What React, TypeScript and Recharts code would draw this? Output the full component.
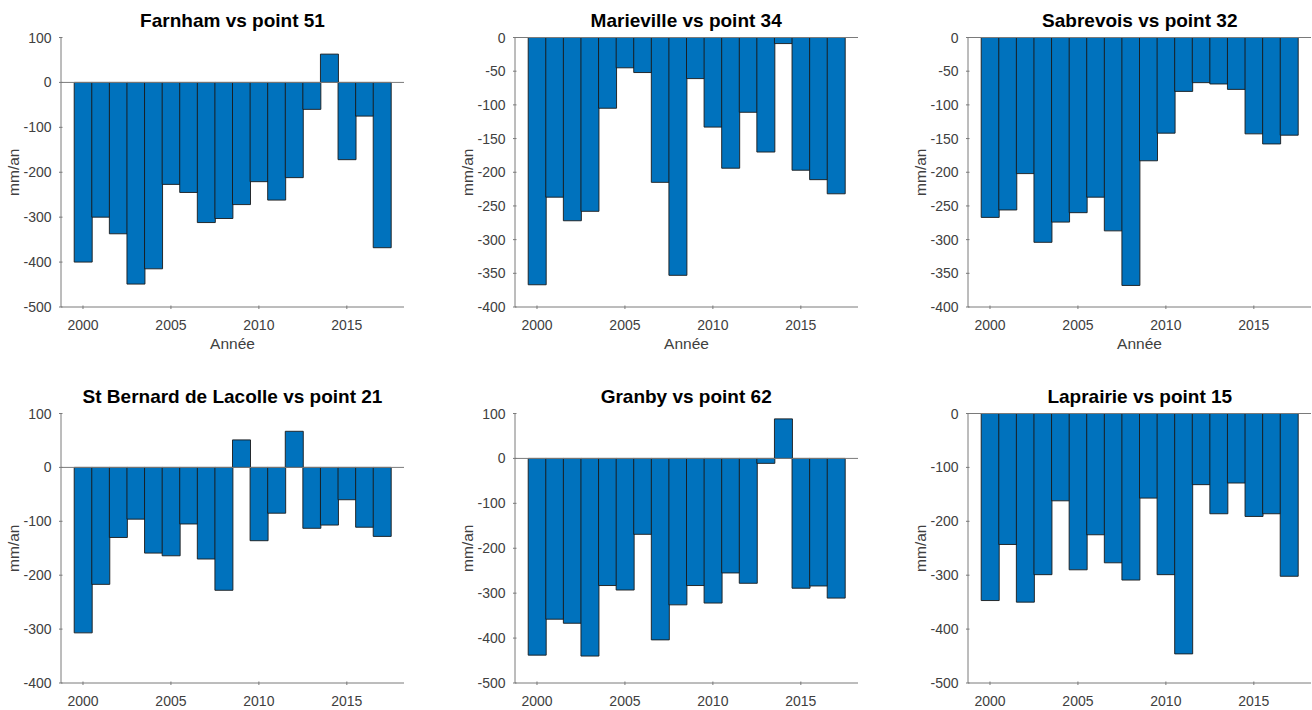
import React from 'react';
import { BarChart, Bar, XAxis, YAxis, ReferenceLine } from 'recharts';

const years = [2000, 2001, 2002, 2003, 2004, 2005, 2006, 2007, 2008, 2009, 2010, 2011, 2012, 2013, 2014, 2015, 2016, 2017];

const farnham = [-400, -300, -337, -449, -415, -227, -245, -312, -303, -272, -221, -262, -212, -60, 63, -172, -75, -368];
const marieville = [-367, -237, -272, -258, -105, -45, -52, -215, -353, -61, -133, -194, -111, -170, -9, -197, -211, -232];
const sabrevois = [-267, -256, -202, -304, -274, -260, -237, -287, -368, -183, -142, -80, -67, -69, -77, -143, -158, -145];
const stBernard = [-307, -217, -130, -96, -159, -164, -105, -170, -228, 51, -136, -85, 67, -113, -107, -60, -111, -128];
const granby = [-438, -358, -367, -440, -283, -293, -169, -404, -326, -283, -322, -255, -278, -11, 88, -289, -284, -311];
const laprairie = [-347, -243, -350, -299, -162, -290, -225, -277, -309, -157, -299, -446, -132, -186, -129, -191, -186, -302];

const ticks100to500 = [100, 0, -100, -200, -300, -400, -500];
const ticks0to400by50 = [0, -50, -100, -150, -200, -250, -300, -350, -400];
const ticks100to400 = [100, 0, -100, -200, -300, -400];
const ticks0to500 = [0, -100, -200, -300, -400, -500];

const AXIS = '#7a7a7a';
const TEXT = '#404040';
const FONT = '"Liberation Sans", Arial, Helvetica, sans-serif';

const PLOT_W = 343;
const PLOT_H = 269.5;
const PLOT_TOP = 37.5;
const Y_AXIS_W = 61;
const BAND = PLOT_W / 19.5;
const PAD = BAND * 0.75;

const XTick = (props: any) => {
  const { x, y, payload } = props;
  return (
    <g>
      <line x1={x} x2={x} y1={y} y2={y - 3.5} stroke={AXIS} strokeWidth={1} />
      <text x={x} y={y + 16} textAnchor="middle" dominantBaseline="central" fill={TEXT} fontSize={14} fontFamily={FONT}>
        {payload.value}
      </text>
    </g>
  );
};

const YTick = (props: any) => {
  const { x, y, payload } = props;
  return (
    <g>
      <line x1={x} x2={x + 3.5} y1={y} y2={y} stroke={AXIS} strokeWidth={1} />
      <text x={x - 7.5} y={y} textAnchor="end" dominantBaseline="central" fill={TEXT} fontSize={14} fontFamily={FONT}>
        {payload.value}
      </text>
    </g>
  );
};

const YLab = (props: any) => {
  const vb = props.viewBox || { x: 0, y: PLOT_TOP, width: Y_AXIS_W, height: PLOT_H };
  const cx = vb.x + 13;
  const cy = vb.y + vb.height / 2;
  return (
    <text x={cx} y={cy} transform={`rotate(-90 ${cx} ${cy})`} textAnchor="middle" dominantBaseline="central" fill={TEXT} fontSize={15.5} fontFamily={FONT}>
      mm/an
    </text>
  );
};

const XLab = (props: any) => {
  const vb = props.viewBox || { x: Y_AXIS_W, y: PLOT_TOP + PLOT_H, width: PLOT_W, height: 48 };
  return (
    <text x={vb.x + vb.width / 2} y={vb.y + 36} textAnchor="middle" dominantBaseline="central" fill={TEXT} fontSize={15.5} fontFamily={FONT}>
      Année
    </text>
  );
};

type PanelProps = {
  title: string;
  values: number[];
  yTicks: number[];
  left: number;
  top: number;
  xLabel: boolean;
};

const Panel = ({ title, values, yTicks, left, top, xLabel }: PanelProps) => {
  const data = years.map((year, i) => ({ year, v: values[i] }));
  const xh = xLabel ? 48 : 26;
  const domain = [Math.min(...yTicks), Math.max(...yTicks)];
  return (
    <div style={{ position: 'absolute', left, top, width: Y_AXIS_W + PLOT_W + 1, height: PLOT_TOP + PLOT_H + xh }}>
      <div
        style={{
          position: 'absolute',
          left: Y_AXIS_W - 20,
          top: PLOT_TOP - 26.5,
          width: PLOT_W + 40,
          textAlign: 'center',
          fontSize: 19,
          lineHeight: '20px',
          fontWeight: 'bold',
          color: '#000',
          whiteSpace: 'nowrap',
        }}
      >
        {title}
      </div>
      <BarChart
        width={Y_AXIS_W + PLOT_W + 1}
        height={PLOT_TOP + PLOT_H + xh}
        data={data}
        margin={{ top: PLOT_TOP, right: 1, bottom: 0, left: 0 }}
        barCategoryGap={0}
        barGap={0}
      >
        <XAxis
          dataKey="year"
          type="category"
          height={xh}
          padding={{ left: PAD, right: PAD }}
          interval={4}
          tickSize={0}
          tickLine={false}
          tick={<XTick />}
          axisLine={{ stroke: AXIS }}
          label={xLabel ? <XLab /> : undefined}
        />
        <YAxis
          type="number"
          width={Y_AXIS_W}
          domain={domain}
          ticks={yTicks}
          interval={0}
          tickSize={0}
          tickLine={false}
          tick={<YTick />}
          axisLine={{ stroke: AXIS }}
          label={<YLab />}
        />
        <Bar dataKey="v" fill="#0072BD" stroke="#1a1a1a" strokeWidth={0.9} isAnimationActive={false} />
        <ReferenceLine y={0} stroke={AXIS} strokeWidth={1} ifOverflow="extendDomain" />
      </BarChart>
    </div>
  );
};

const COL_LEFT = [0, 453.7, 907.3];
const ROW_TOP = [0, 376];

export default function App() {
  return (
    <div
      style={{
        position: 'absolute',
        left: 0,
        top: 0,
        width: 1312,
        height: 710,
        overflow: 'hidden',
        background: '#fff',
        fontFamily: FONT,
      }}
    >
      <Panel title="Farnham vs point 51" values={farnham} yTicks={ticks100to500} left={COL_LEFT[0]} top={ROW_TOP[0]} xLabel />
      <Panel title="Marieville vs point 34" values={marieville} yTicks={ticks0to400by50} left={COL_LEFT[1]} top={ROW_TOP[0]} xLabel />
      <Panel title="Sabrevois vs point 32" values={sabrevois} yTicks={ticks0to400by50} left={COL_LEFT[2]} top={ROW_TOP[0]} xLabel />
      <Panel title="St Bernard de Lacolle vs point 21" values={stBernard} yTicks={ticks100to400} left={COL_LEFT[0]} top={ROW_TOP[1]} xLabel={false} />
      <Panel title="Granby vs point 62" values={granby} yTicks={ticks100to500} left={COL_LEFT[1]} top={ROW_TOP[1]} xLabel={false} />
      <Panel title="Laprairie vs point 15" values={laprairie} yTicks={ticks0to500} left={COL_LEFT[2]} top={ROW_TOP[1]} xLabel={false} />
    </div>
  );
}
